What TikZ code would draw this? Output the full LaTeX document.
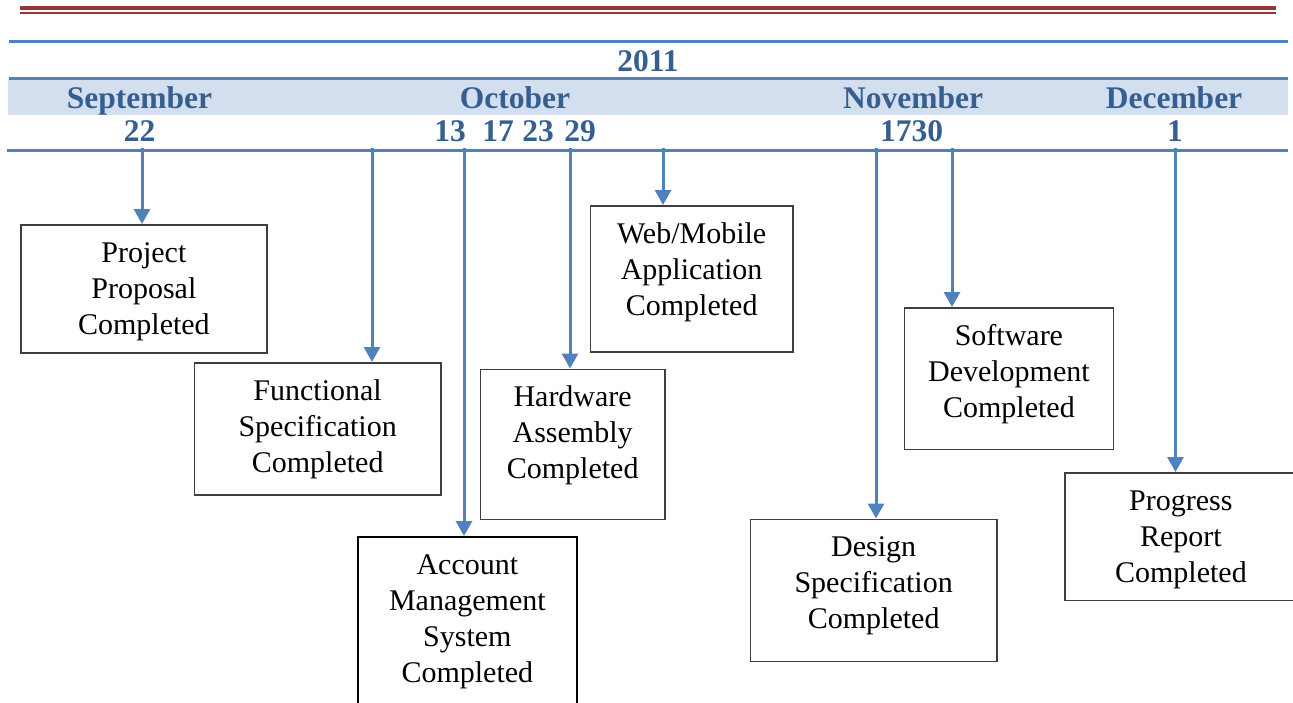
\documentclass[tikz,border=0pt]{standalone}
\usepackage{fontspec}
\setmainfont{Liberation Serif}
\usetikzlibrary{arrows.meta}

\definecolor{lineblue}{HTML}{4F81BD}
\definecolor{headblue}{HTML}{365F91}
\definecolor{bandblue}{HTML}{D3DFEE}
\definecolor{redrule}{HTML}{943634}
\definecolor{boxgray}{HTML}{3F3F3F}

\begin{document}
\begin{tikzpicture}[x=1pt,y=-1pt,
  rule/.style={draw=lineblue, line width=3pt},
  head/.style={text=headblue, font=\fontsize{31.5}{36}\selectfont\bfseries, inner sep=0pt, anchor=base},
  milestone/.style={draw=boxgray, line width=1.8pt, anchor=north west, inner sep=0pt},
  caption/.style={font=\fontsize{30}{36}\selectfont, align=center, inner sep=0pt, anchor=north, text width=200pt},
  link/.style={draw=lineblue, line width=3pt, -{Triangle[width=16pt,length=15pt]}},
]
\useasboundingbox (0,0) rectangle (1293,702);
\clip (0,0) rectangle (1293,702);

% page header rule
\draw[redrule, line width=4pt] (20,7.6) -- (1276,7.6);
\draw[redrule, line width=2pt] (20,12.9) -- (1276,12.9);

% timeline header
\fill[bandblue] (8,79) rectangle (1288,115);
\draw[rule] (9,41.5) -- (1288,41.5);
\draw[rule] (9,78.3) -- (1288,78.3);
\draw[rule] (7,150.3) -- (1288,150.3);

\node[head] (yr) at (648,71) {2011};
\node[head] (sep) at (139.5,108) {September};
\node[head] (oct) at (515,108) {October};
\node[head] (nov) at (913,108) {November};
\node[head] (dec) at (1174,108) {December};

\node[head] (d22) at (139.5,141.5) {22};
\node[head] (d13) at (450,141.5) {13};
\node[head] (d17) at (498,141.5) {17};
\node[head] (d23) at (538,141.5) {23};
\node[head] (d29) at (580,141.5) {29};
\node[head] (d1730) at (911.5,141.5) {1730};
\node[head] (d1) at (1175,141.5) {1};

% milestone boxes
\node[milestone, minimum width=246pt, minimum height=128pt] (pp) at (20,224) {};
\node[caption] (ppt) at ([yshift=-14pt]pp.north) {\rule{0pt}{24pt}Project\\Proposal\\Completed};

\node[milestone, minimum width=246.5pt, minimum height=132pt] (fs) at (193.5,362) {};
\node[caption] (fst) at ([yshift=-14pt]fs.north) {\rule{0pt}{24pt}Functional\\Specification\\Completed};

\node[milestone, draw=black, line width=2.2pt, minimum width=219.5pt, minimum height=200pt] (am) at (356.5,536) {};
\node[caption] (amt) at ([yshift=-14pt]am.north) {\rule{0pt}{24pt}Account\\Management\\System\\Completed};

\node[milestone, minimum width=184.5pt, minimum height=150pt] (ha) at (479.5,368.5) {};
\node[caption] (hat) at ([yshift=-14pt]ha.north) {\rule{0pt}{24pt}Hardware\\Assembly\\Completed};

\node[milestone, minimum width=202.5pt, minimum height=146pt] (wm) at (589.5,205) {};
\node[caption] (wmt) at ([yshift=-14pt]wm.north) {\rule{0pt}{24pt}Web/Mobile\\Application\\Completed};

\node[milestone, minimum width=246.5pt, minimum height=142pt] (ds) at (749.5,518.5) {};
\node[caption] (dst) at ([yshift=-14pt]ds.north) {\rule{0pt}{24pt}Design\\Specification\\Completed};

\node[milestone, minimum width=209pt, minimum height=141.5pt] (sd) at (903.5,307) {};
\node[caption] (sdt) at ([yshift=-14pt]sd.north) {\rule{0pt}{24pt}Software\\Development\\Completed};

\node[milestone, minimum width=232pt, minimum height=127.5pt] (pr) at (1064,472) {};
\node[caption] (prt) at ([yshift=-14pt]pr.north) {\rule{0pt}{24pt}Progress\\Report\\Completed};

% ticks on the timeline
\coordinate (m1) at (142,148);
\coordinate (m2) at (372,148);
\coordinate (m3) at (464,148);
\coordinate (m4) at (570,148);
\coordinate (m5) at (663,148);
\coordinate (m6) at (876,148);
\coordinate (m7) at (952,148);
\coordinate (m8) at (1175.5,148);

% connectors
\draw[link] (m1) -- (m1 |- pp.north);
\draw[link] (m2) -- (m2 |- fs.north);
\draw[link] (m3) -- (m3 |- am.north);
\draw[link] (m4) -- (m4 |- ha.north);
\draw[link] (m5) -- (m5 |- wm.north);
\draw[link] (m6) -- (m6 |- ds.north);
\draw[link] (m7) -- (m7 |- sd.north);
\draw[link] (m8) -- (m8 |- pr.north);
\end{tikzpicture}
\end{document}
